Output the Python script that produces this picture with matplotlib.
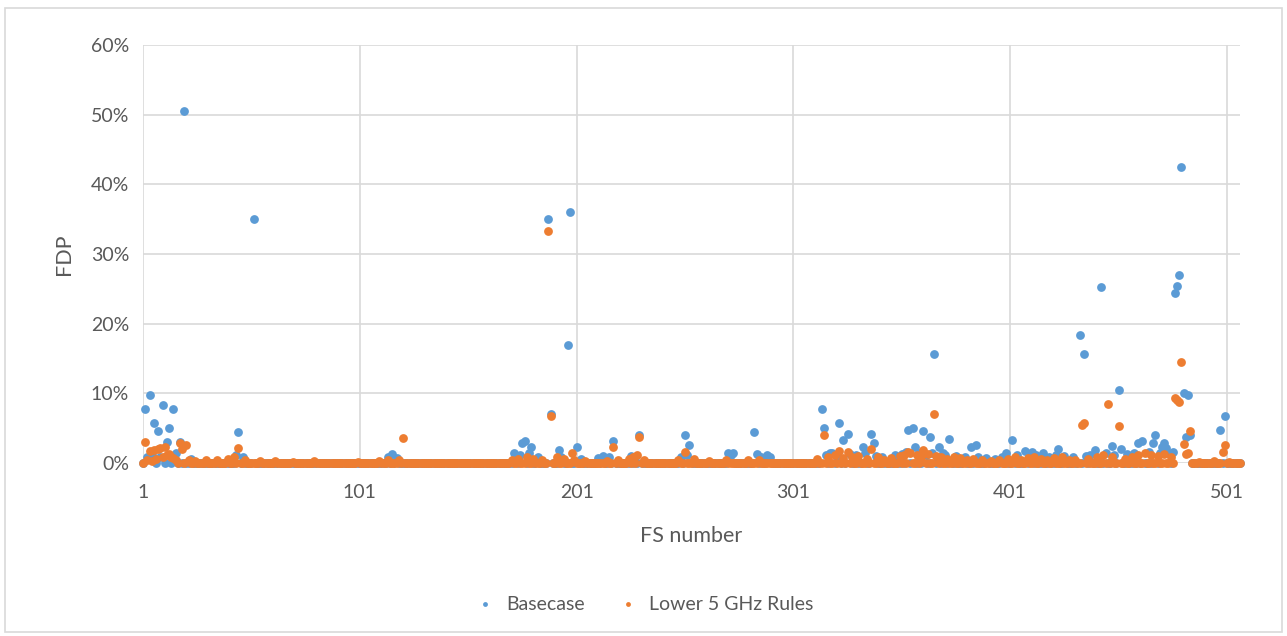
import numpy as np
import matplotlib.pyplot as plt
from matplotlib.patches import Rectangle
from matplotlib.ticker import PercentFormatter

# FS numbers 1..507, values in percent
FS = np.arange(1, 508)

# points clearly above the near-zero band
BASECASE_POINTS = {
    2: 7.8, 4: 9.7, 6: 5.7, 8: 4.6, 10: 8.3, 12: 3.0, 13: 5.0, 15: 7.8, 18: 3.0,
    20: 50.5, 45: 4.4, 52: 35.0, 116: 1.3, 172: 1.4, 176: 2.8, 177: 3.1, 180: 2.3,
    188: 35.0, 189: 7.1, 193: 1.8, 197: 17.0, 198: 36.0, 201: 2.3, 213: 1.0,
    218: 3.1, 230: 4.0, 251: 4.0, 253: 2.6, 271: 1.4, 273: 1.5, 283: 4.4, 284: 1.3,
    289: 1.1, 314: 7.7, 315: 5.0, 318: 1.4, 322: 5.7, 324: 3.3, 326: 4.2, 333: 2.3,
    337: 4.2, 338: 2.8, 354: 4.8, 356: 5.0, 357: 2.3, 361: 4.6, 364: 3.8, 366: 15.7,
    368: 2.3, 370: 1.4, 373: 3.4, 383: 2.3, 385: 2.6, 399: 1.5, 402: 3.3, 408: 1.7,
    411: 1.6, 416: 1.4, 423: 2.0, 433: 18.4, 435: 15.7, 440: 1.9, 443: 25.3,
    448: 2.4, 451: 10.5, 452: 2.0, 460: 2.8, 462: 3.1, 467: 2.8, 468: 4.0, 471: 2.3,
    472: 2.8, 473: 2.1, 476: 1.6, 477: 24.4, 478: 25.4, 479: 27.0, 480: 42.5,
    481: 10.1, 482: 3.8, 483: 9.8, 484: 4.0, 498: 4.7, 500: 6.7,
}
LOWER5_POINTS = {
    2: 3.0, 4: 1.7, 6: 1.9, 8: 2.0, 9: 2.1, 11: 2.3, 12: 1.1, 14: 0.8, 18: 2.8,
    19: 2.0, 21: 2.6, 45: 2.1, 121: 3.6, 188: 33.3, 189: 6.7, 199: 1.4, 218: 2.3,
    229: 1.1, 230: 3.7, 251: 1.6, 315: 4.0, 322: 1.7, 326: 1.6, 337: 2.0, 354: 1.6,
    361: 1.9, 366: 7.1, 434: 5.5, 435: 5.7, 446: 8.5, 451: 5.3, 477: 9.3, 478: 9.0,
    479: 8.7, 480: 14.5, 481: 2.7, 482: 1.3, 483: 1.4, 484: 4.6, 499: 1.6, 500: 2.6,
}

# small bumps inside the band (everything else sits at ~0%)
BASECASE_BAND = {
    3: 0.9, 5: 1.1, 9: 0.8, 16: 1.4, 23: 0.6, 44: 1.2, 47: 0.8, 114: 0.9, 118: 0.7,
    173: 1.0, 175: 1.2, 179: 1.5, 183: 0.8, 194: 0.9, 203: 0.6, 211: 0.7, 216: 0.8,
    226: 1.0, 228: 0.9, 249: 0.9, 252: 1.2, 272: 1.1, 286: 0.8, 290: 0.9, 316: 1.2,
    319: 1.5, 321: 1.0, 327: 1.3, 330: 1.1, 334: 1.4, 339: 1.0, 342: 0.8, 348: 1.2,
    351: 1.3, 353: 1.6, 359: 1.4, 362: 1.2, 365: 1.5, 371: 1.1, 376: 1.0, 380: 0.8,
    386: 0.9, 390: 0.7, 394: 0.6, 397: 0.9, 404: 1.1, 410: 1.0, 413: 1.2, 419: 0.9,
    422: 1.1, 426: 1.0, 430: 0.9, 436: 1.0, 438: 1.2, 445: 1.4, 449: 1.2, 455: 1.3,
    458: 1.5, 465: 1.6, 470: 1.4, 474: 1.5,
}
LOWER5_BAND = {
    3: 0.5, 5: 0.3, 7: 0.6, 10: 0.9, 13: 1.3, 15: 0.7, 16: 0.4, 22: 0.5, 25: 0.3,
    30: 0.4, 35: 0.5, 40: 0.6, 43: 0.8, 48: 0.4, 55: 0.3, 62: 0.3, 70: 0.2, 80: 0.3,
    100: 0.2, 110: 0.3, 114: 0.4, 119: 0.5, 171: 0.5, 174: 0.6, 178: 0.9, 181: 0.6,
    185: 0.4, 192: 0.8, 195: 0.6, 200: 0.4, 205: 0.3, 215: 0.3, 220: 0.5, 225: 0.6,
    227: 0.9, 232: 0.4, 248: 0.5, 255: 0.6, 262: 0.3, 270: 0.4, 280: 0.5, 285: 0.4,
    312: 0.6, 317: 0.9, 320: 1.1, 324: 0.7, 328: 0.8, 331: 1.0, 335: 0.6, 340: 0.8,
    343: 0.5, 346: 0.7, 350: 1.0, 352: 1.2, 355: 1.4, 358: 1.1, 360: 0.9, 363: 1.3,
    367: 1.0, 369: 0.8, 372: 0.6, 375: 0.9, 378: 0.7, 381: 0.5, 384: 0.6, 388: 0.4,
    392: 0.3, 396: 0.4, 400: 0.6, 403: 0.8, 406: 0.5, 409: 0.7, 412: 0.9, 415: 0.6,
    418: 0.5, 421: 0.7, 425: 0.8, 428: 0.5, 431: 0.4, 437: 0.6, 441: 0.9, 444: 1.2,
    448: 0.8, 454: 0.6, 457: 0.9, 460: 1.1, 463: 1.4, 466: 1.2, 469: 1.0, 472: 1.3,
    475: 0.9, 488: 0.2, 495: 0.3, 502: 0.2,
}

X_TICKS = [1, 101, 201, 301, 401, 501]

BLUE = '#5B9BD5'
ORANGE = '#ED7D31'
TXT = '#595959'
GRID = '#D9D9D9'


def build_series(points, band):
    vals = np.zeros(len(FS))
    for fs, v in {**band, **points}.items():
        vals[fs - 1] = v
    return vals / 100.0


basecase = build_series(BASECASE_POINTS, BASECASE_BAND)
lower5 = build_series(LOWER5_POINTS, LOWER5_BAND)

plt.rcParams['font.family'] = ['Lato', 'DejaVu Sans']

fig = plt.figure(figsize=(12.87, 6.36), dpi=100)
ax = fig.add_axes([143 / 1287, 1 - 463 / 636, (1240 - 143) / 1287, (463 - 45) / 636])

ax.scatter(FS, basecase, s=40, color=BLUE, linewidths=0, label='Basecase', clip_on=False, zorder=3)
ax.scatter(FS, lower5, s=40, color=ORANGE, linewidths=0, label='Lower 5 GHz Rules', clip_on=False, zorder=4)

ax.set_xlim(1, 507)
ax.set_ylim(0, 0.6)
ax.set_xticks(X_TICKS)
ax.set_yticks(np.arange(0, 0.61, 0.1))
ax.yaxis.set_major_formatter(PercentFormatter(1.0, decimals=0))

ax.grid(True, color=GRID, linewidth=1.2, zorder=0)
ax.set_axisbelow(True)
for s in ax.spines.values():
    s.set_visible(False)
ax.tick_params(length=0, labelsize=14, colors=TXT)
ax.tick_params(axis='x', pad=15)
ax.tick_params(axis='y', pad=10)

ax.set_xlabel('FS number', fontsize=15.5, color=TXT, labelpad=18)
ax.set_ylabel('FDP', fontsize=15.5, color=TXT, labelpad=12)

fig.legend(loc='center', bbox_to_anchor=(0.497, 1 - 604 / 636), ncol=2, frameon=False,
           fontsize=14, labelcolor=TXT, markerscale=0.55, handletextpad=0.1,
           columnspacing=1.2)

# light chart-area border
fig.patches.append(Rectangle((5 / 1287, 4 / 636), 1 - 10 / 1287, 1 - 12 / 636,
                             transform=fig.transFigure, fill=False,
                             edgecolor='#D9D9D9', linewidth=1.2))

fig.savefig('out.png', dpi=100)
